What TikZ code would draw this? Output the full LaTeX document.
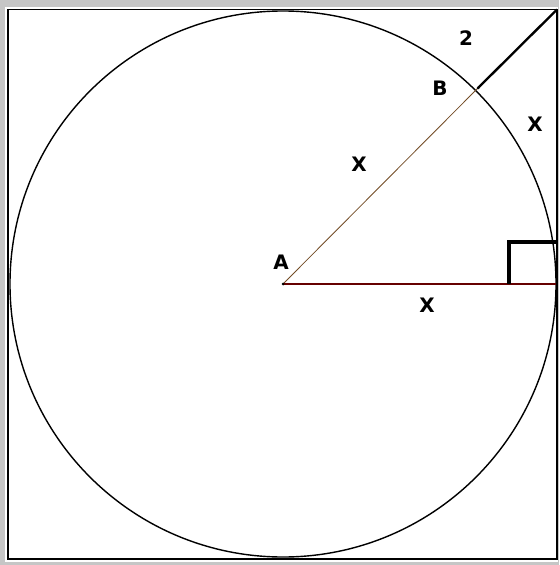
\documentclass[tikz,border=0pt]{standalone}
\usepackage{fontspec}
\newfontfamily\lblfont{DejaVu Sans}
\usepackage{tikz}
\usetikzlibrary{calc}

\begin{document}
\begin{tikzpicture}[
    x=0.03cm, y=-0.03cm,
    % Styles
    frame/.style={draw=black, line width=1.6pt},
    circ/.style={draw=black, line width=1.2pt},
    radius line/.style={draw=brown!60!black, line width=0.7pt},
    base line/.style={draw=red!40!black, line width=1.5pt},
    tangent/.style={draw=black, line width=2pt},
    rightangle/.style={draw=black, line width=2.8pt},
    lbl/.style={font=\lblfont\bfseries\fontsize{17}{17}\selectfont, inner sep=0pt},
]

% === WINDOW FRAME ===
\fill[gray!45] (0,0) rectangle (559,565);
\fill[white] (5,7) rectangle (558,562);
\draw[frame] (8,9.5) rectangle (557,559);
\useasboundingbox (0,0) rectangle (559,565);

% === POINTS ===
\coordinate (A) at (283,284);
\coordinate (B) at (478,88);
\coordinate (C) at (557,9.5);
\coordinate (D) at (556,284);

% Circle
\draw[circ] (A) circle[radius=8.19cm];

% Radii
\draw[radius line] (A) -- (B);
\draw[base line] (A) -- (D);
\draw[tangent] (B) -- (C);
\fill (A) circle[radius=1.5];
\fill (B) circle[radius=1.5];

% Right angle mark
\draw[rightangle] (509,284) -- (509,242) -- (D |- 0,242);

% Labels
\node[lbl] (labA) at (281,262) {A};
\node[lbl] (labB) at (440,88) {B};
\node[lbl] (lab2) at (466,38) {2};
\node[lbl] (labXarc) at (535,124) {X};
\node[lbl] (labXab) at (359,164) {X};
\node[lbl] (labXad) at (427,305) {X};

\end{tikzpicture}
\end{document}
